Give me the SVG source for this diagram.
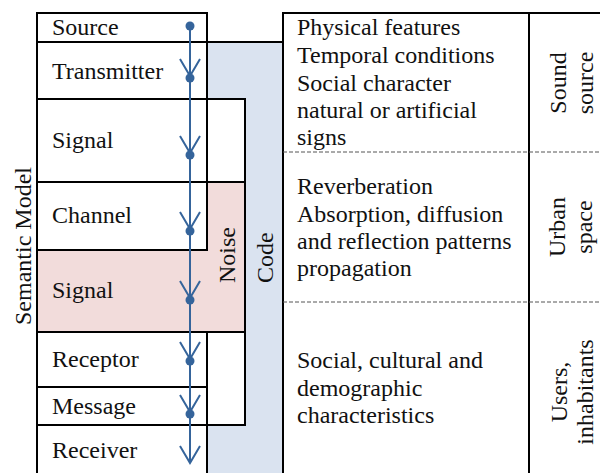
<svg xmlns="http://www.w3.org/2000/svg" width="600" height="473" viewBox="0 0 600 473">
<style>
.b{fill:none;stroke:#000;stroke-width:2}
.w{fill:#fff;stroke:#000;stroke-width:2}
.pink{fill:#f2dcdb}
.blue{fill:#dae3f0}
.dash{stroke:#555;stroke-width:1;stroke-dasharray:4 2;fill:none}
.con{stroke:#35649b;stroke-width:2;fill:none}
.dot{fill:#35649b}
</style>
<defs>
<marker id="v" markerUnits="userSpaceOnUse" markerWidth="24" markerHeight="24" refX="20" refY="12" orient="auto" viewBox="0 0 24 24">
<path d="M3,2 L20,12 L3,22" fill="none" stroke="#35649b" stroke-width="2"/>
</marker>
</defs>
<rect width="600" height="473" fill="#fff"/>

<g id="code">
<rect class="blue" x="207" y="42" width="76" height="440"/>
<path class="b" d="M207,42 H283 V480"/>
<text style="font-family:'Liberation Serif',serif;font-size:24px;fill:#111" transform="translate(273,283) rotate(-90)">Code</text>
</g>

<g id="noise">
<rect x="207" y="99" width="38" height="326" fill="#fff"/>
<rect class="pink" x="207" y="182" width="38" height="150"/>
<path class="b" d="M207,99 H245 V425 H207 M207,182 H245 M207,332 H245"/>
<text style="font-family:'Liberation Serif',serif;font-size:24px;fill:#111" transform="translate(235,283) rotate(-90)">Noise</text>
</g>

<g id="semantic-model">
<text style="font-family:'Liberation Serif',serif;font-size:24px;fill:#111;text-anchor:middle" transform="translate(31,246) rotate(-90)">Semantic Model</text>
</g>

<g id="source">
<rect class="w" x="37" y="13" width="170" height="29"/>
<text style="font-family:'Liberation Serif',serif;font-size:24px;fill:#111" x="52" y="35">Source</text>
</g>
<g id="transmitter">
<rect class="w" x="37" y="42" width="170" height="57"/>
<text style="font-family:'Liberation Serif',serif;font-size:24px;fill:#111" x="52" y="79">Transmitter</text>
</g>
<g id="signal-1">
<rect class="w" x="37" y="99" width="170" height="83"/>
<text style="font-family:'Liberation Serif',serif;font-size:24px;fill:#111" x="52" y="148">Signal</text>
</g>
<g id="channel">
<rect class="w" x="37" y="182" width="170" height="68"/>
<text style="font-family:'Liberation Serif',serif;font-size:24px;fill:#111" x="52" y="223">Channel</text>
</g>
<g id="signal-2">
<rect class="pink" x="37" y="250" width="170" height="82"/>
<path class="b" d="M207,250 H37 V332 H207"/>
<text style="font-family:'Liberation Serif',serif;font-size:24px;fill:#111" x="52" y="298">Signal</text>
</g>
<g id="receptor">
<rect class="w" x="37" y="332" width="170" height="55"/>
<text style="font-family:'Liberation Serif',serif;font-size:24px;fill:#111" x="52" y="367">Receptor</text>
</g>
<g id="message">
<rect class="w" x="37" y="387" width="170" height="38"/>
<text style="font-family:'Liberation Serif',serif;font-size:24px;fill:#111" x="52" y="414">Message</text>
</g>
<g id="receiver">
<rect class="w" x="37" y="425" width="170" height="60"/>
<text style="font-family:'Liberation Serif',serif;font-size:24px;fill:#111" x="52" y="458">Receiver</text>
</g>

<g id="panel">
<rect class="b" x="283" y="13" width="330" height="470"/>
<path class="b" d="M529,13 V480"/>
<path class="dash" d="M283,152 H600 M283,302 H600"/>
</g>

<g id="sound-source">
<text style="font-family:'Liberation Serif',serif;font-size:24px;fill:#111" x="297" y="35">Physical features</text>
<text style="font-family:'Liberation Serif',serif;font-size:24px;fill:#111" x="297" y="63">Temporal conditions</text>
<text style="font-family:'Liberation Serif',serif;font-size:24px;fill:#111" x="297" y="91">Social character</text>
<text style="font-family:'Liberation Serif',serif;font-size:24px;fill:#111" x="297" y="118">natural or artificial</text>
<text style="font-family:'Liberation Serif',serif;font-size:24px;fill:#111" x="297" y="145">signs</text>
<text style="font-family:'Liberation Serif',serif;font-size:24px;fill:#111;text-anchor:middle" transform="translate(566,83) rotate(-90)">Sound</text>
<text style="font-family:'Liberation Serif',serif;font-size:24px;fill:#111;text-anchor:middle" transform="translate(592.5,83) rotate(-90)">source</text>
</g>

<g id="urban-space">
<text style="font-family:'Liberation Serif',serif;font-size:24px;fill:#111" x="297" y="194">Reverberation</text>
<text style="font-family:'Liberation Serif',serif;font-size:24px;fill:#111" x="297" y="222">Absorption, diffusion</text>
<text style="font-family:'Liberation Serif',serif;font-size:24px;fill:#111" x="297" y="249">and reflection patterns</text>
<text style="font-family:'Liberation Serif',serif;font-size:24px;fill:#111" x="297" y="276">propagation</text>
<text style="font-family:'Liberation Serif',serif;font-size:24px;fill:#111;text-anchor:middle" transform="translate(565,227) rotate(-90)">Urban</text>
<text style="font-family:'Liberation Serif',serif;font-size:24px;fill:#111;text-anchor:middle" transform="translate(592,227) rotate(-90)">space</text>
</g>

<g id="users">
<text style="font-family:'Liberation Serif',serif;font-size:24px;fill:#111" x="297" y="368">Social, cultural and</text>
<text style="font-family:'Liberation Serif',serif;font-size:24px;fill:#111" x="297" y="395.5">demographic</text>
<text style="font-family:'Liberation Serif',serif;font-size:24px;fill:#111" x="297" y="423">characteristics</text>
<text style="font-family:'Liberation Serif',serif;font-size:24px;fill:#111;text-anchor:middle" transform="translate(567,392) rotate(-90)">Users,</text>
<text style="font-family:'Liberation Serif',serif;font-size:24px;fill:#111;text-anchor:middle" transform="translate(593,392) rotate(-90)">inhabitants</text>
</g>

<g id="connectors">
<line class="con" x1="190" y1="26" x2="190" y2="76" marker-end="url(#v)"/>
<line class="con" x1="190" y1="78" x2="190" y2="153" marker-end="url(#v)"/>
<line class="con" x1="190" y1="155" x2="190" y2="229" marker-end="url(#v)"/>
<line class="con" x1="190" y1="231" x2="190" y2="298" marker-end="url(#v)"/>
<line class="con" x1="190" y1="300" x2="190" y2="359" marker-end="url(#v)"/>
<line class="con" x1="190" y1="361" x2="190" y2="412" marker-end="url(#v)"/>
<line class="con" x1="190" y1="414" x2="190" y2="463" marker-end="url(#v)"/>
<circle class="dot" cx="190" cy="26" r="4.5"/>
<circle class="dot" cx="190" cy="78" r="4.5"/>
<circle class="dot" cx="190" cy="155" r="4.5"/>
<circle class="dot" cx="190" cy="231" r="4.5"/>
<circle class="dot" cx="190" cy="300" r="4.5"/>
<circle class="dot" cx="190" cy="361" r="4.5"/>
<circle class="dot" cx="190" cy="414" r="4.5"/>
</g>
</svg>
